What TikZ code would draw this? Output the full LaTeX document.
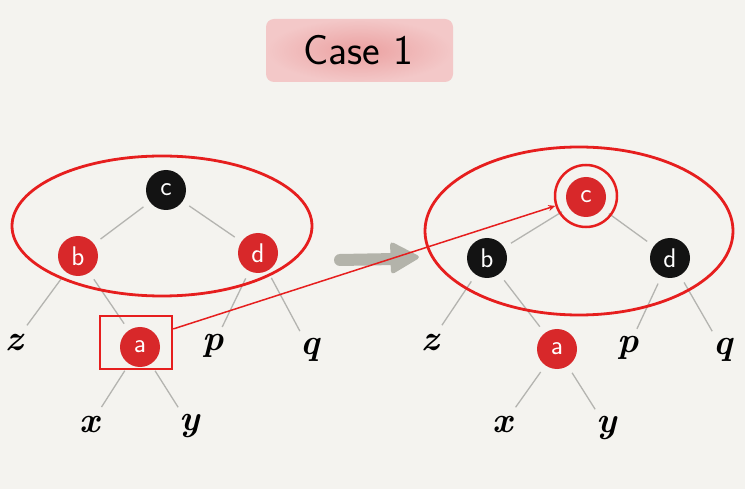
\documentclass[tikz,border=0pt]{standalone}
\usepackage{fontspec}
\usetikzlibrary{shapes.geometric,arrows.meta}
\definecolor{bg}{HTML}{F4F3EF}
\definecolor{nred}{HTML}{D8282A}
\definecolor{nblack}{HTML}{131313}
\definecolor{hl}{HTML}{E61E1E}
\definecolor{edge}{HTML}{B4B4B0}
\definecolor{garrow}{HTML}{B3B3AA}
\definecolor{pinkin}{HTML}{EBA0A0}
\definecolor{pinkout}{HTML}{F3C8C8}
\tikzset{
  rb/.style={circle, fill=nred, text=white, minimum size=40pt, inner sep=0pt, font=\fontsize{27}{27}\selectfont\sffamily},
  bk/.style={circle, fill=nblack, text=white, minimum size=40pt, inner sep=0pt, font=\fontsize{27}{27}\selectfont\sffamily},
  leaf/.style={inner sep=0pt, minimum size=22pt, font=\fontsize{36}{36}\selectfont\bfseries\itshape},
  tedge/.style={draw=edge, line width=1.3pt, shorten <=8pt, shorten >=8pt},
  hlring/.style={draw=hl, line width=2.8pt},
}
\begin{document}
\begin{tikzpicture}[x=1pt,y=-1pt]
\fill[bg] (0,0) rectangle (745,489);
\useasboundingbox (0,0) rectangle (745,489);
% title
\shade[inner color=pinkin, outer color=pinkout, rounded corners=8pt] (266,19) rectangle (453,82);
\node[font=\fontsize{42}{42}\selectfont\sffamily] (title) at (358,50) {Case 1};
% left tree
\node[bk] (lc) at (166,190) {c};
\node[rb] (lb) at (78,256) {b};
\node[rb] (ld) at (258,253) {d};
\node[rb] (la) at (140,347) {a};
\node[leaf] (lz) at (14,343) {z};
\node[leaf] (lp) at (213,346) {p};
\node[leaf] (lq) at (310,350) {q};
\node[leaf] (lx) at (90,425) {x};
\node[leaf] (ly) at (190,426) {y};
\path[tedge] (lc) -- (lb);
\path[tedge] (lc) -- (ld);
\path[tedge] (lb) -- (lz);
\path[tedge] (lb) -- (la);
\path[tedge] (ld) -- (lp);
\path[tedge] (ld) -- (lq);
\path[tedge] (la) -- (lx);
\path[tedge] (la) -- (ly);
\node[ellipse, hlring, minimum width=300pt, minimum height=140pt, inner sep=0pt] (le) at (162,226) {};
\node[draw=hl, line width=2.5pt, minimum width=72pt, minimum height=53pt, inner sep=0pt] (ra) at (136,342.5) {};
% right tree
\node[rb] (rc0) at (586,197) {c};
\node[bk] (rb) at (487,258) {b};
\node[bk] (rd) at (670,258) {d};
\node[rb] (rra) at (557,349) {a};
\node[leaf] (rz) at (430,343) {z};
\node[leaf] (rp) at (628,348) {p};
\node[leaf] (rq) at (723,350) {q};
\node[leaf] (rx) at (503,425) {x};
\node[leaf] (ry) at (607,428) {y};
\path[tedge] (rc0) -- (rb);
\path[tedge] (rc0) -- (rd);
\path[tedge] (rb) -- (rz);
\path[tedge] (rb) -- (rra);
\path[tedge] (rd) -- (rp);
\path[tedge] (rd) -- (rq);
\path[tedge] (rra) -- (rx);
\path[tedge] (rra) -- (ry);
\node[circle, draw=hl, line width=2.5pt, minimum size=62pt, inner sep=0pt] (rc) at (586,196) {};
\node[ellipse, hlring, minimum width=308pt, minimum height=168pt, inner sep=0pt] (re) at (579,231) {};
% gray arrow
\draw[garrow, line width=12pt, line cap=round] (340,260) -- (395,259);
\fill[garrow, rounded corners=4pt] (390,241) -- (421,257) -- (391,275) -- cycle;
% red connector
\draw[hl, line width=1.5pt, -{Stealth[length=7pt,width=6pt]}] (ra.20) -- (rc);
\end{tikzpicture}
\end{document}
